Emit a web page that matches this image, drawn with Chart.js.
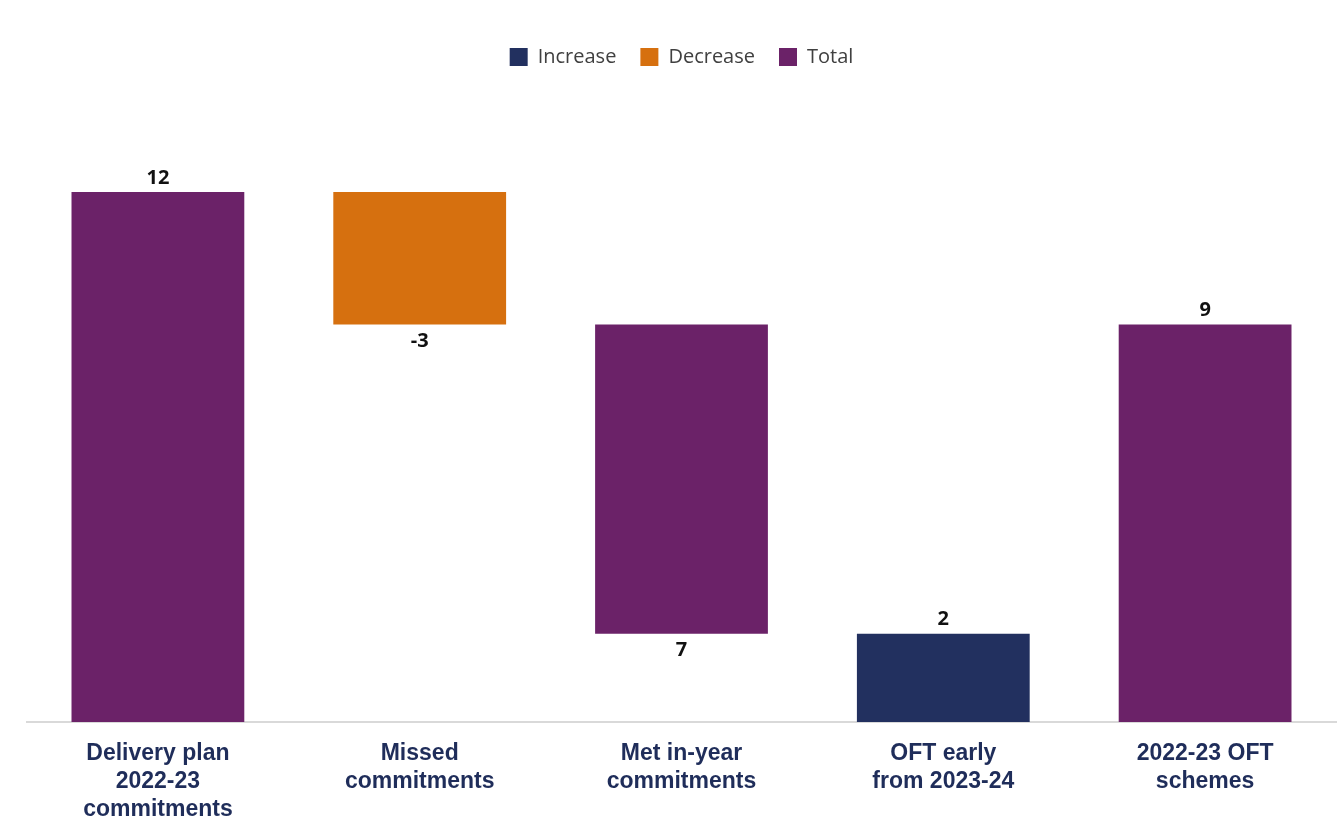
<!DOCTYPE html>
<html>
<head>
<meta charset="utf-8">
<script src="https://cdn.jsdelivr.net/npm/chart.js@4"></script>
<style>
    html, body { margin: 0; padding: 0; background: #ffffff; }
    #wrap { width: 1338px; height: 827px; position: relative; }
</style>
</head>
<body>
<div id="wrap"><canvas id="myChart"></canvas></div>
<script>
// waterfall data
const categories = [
    ["Delivery plan", "2022-23", "commitments"],
    ["Missed", "commitments"],
    ["Met in-year", "commitments"],
    ["OFT early", "from 2023-24"],
    ["2022-23 OFT", "schemes"]
];
const barLow = [0, 9, 2, 0, 0];
const barHigh = [12, 12, 9, 2, 9];
const shownValues = [12, -3, 7, 2, 9];
const barKind = ["Total", "Decrease", "Total", "Increase", "Total"];
const labelSide = ["top", "bottom", "bottom", "top", "top"];

const colours = {
    Increase: "#22305f",
    Decrease: "#d6700f",
    Total: "#6b2268"
};

function seriesFor(kind) {
    return barKind.map((k, i) => (k === kind ? [barLow[i], barHigh[i]] : null));
}

const datasets = ["Increase", "Decrease", "Total"].map((kind) => ({
    label: kind,
    data: seriesFor(kind),
    backgroundColor: colours[kind],
    borderWidth: 0,
    barPercentage: 0.66,
    categoryPercentage: 1,
    grouped: false
}));

//value labels above / below bars
const valueLabels = {
    id: "valueLabels",
    afterDatasetsDraw(chart) {
        const ctx = chart.ctx;
        ctx.save();
        ctx.font = "bold 20px 'Open Sans'";
        ctx.fillStyle = "#111111";
        ctx.textAlign = "center";
        ctx.textBaseline = "middle";
        chart.data.datasets.forEach((ds, di) => {
            const meta = chart.getDatasetMeta(di);
            meta.data.forEach((bar, i) => {
                if (ds.data[i] === null) return;
                const top = Math.min(bar.y, bar.base);
                const bottom = Math.max(bar.y, bar.base);
                const y = labelSide[i] === "top" ? top - 14 : bottom + 17;
                ctx.fillText(String(shownValues[i]), bar.x, y);
            });
        });
        ctx.restore();
    }
};

// extra room under the legend
const legendGap = {
    id: "legendGap",
    beforeInit(chart) {
        const fit = chart.legend.fit;
        chart.legend.fit = function () {
            fit.bind(chart.legend)();
            this.height += 115;
        };
    }
};

var ctx = document.getElementById("myChart");
new Chart(ctx, {
    type: "bar",
    data: { labels: categories, datasets: datasets },
    options: {
        responsive: true,
        maintainAspectRatio: false,
        animation: false,
        layout: { padding: { left: 27, right: 2, top: 23, bottom: 0 } },
        plugins: {
            legend: {
                display: true,
                position: "top",
                labels: {
                    boxWidth: 18,
                    boxHeight: 18,
                    padding: 24,
                    color: "#404040",
                    font: { family: "'Open Sans'", size: 20 }
                }
            },
            tooltip: { enabled: false }
        },
        scales: {
            x: {
                grid: { display: false, drawTicks: false },
                border: { display: true, color: "#d9d9d9", width: 2 },
                ticks: {
                    color: "#1f2d5a",
                    padding: 18,
                    maxRotation: 0,
                    font: { family: "'Liberation Sans'", size: 23, weight: "bold", lineHeight: 1.22 }
                },
                afterFit(scale) { scale.height = 105; }
            },
            y: {
                display: false,
                min: 0,
                max: 12
            }
        }
    },
    plugins: [valueLabels, legendGap]
});
</script>
</body>
</html>
